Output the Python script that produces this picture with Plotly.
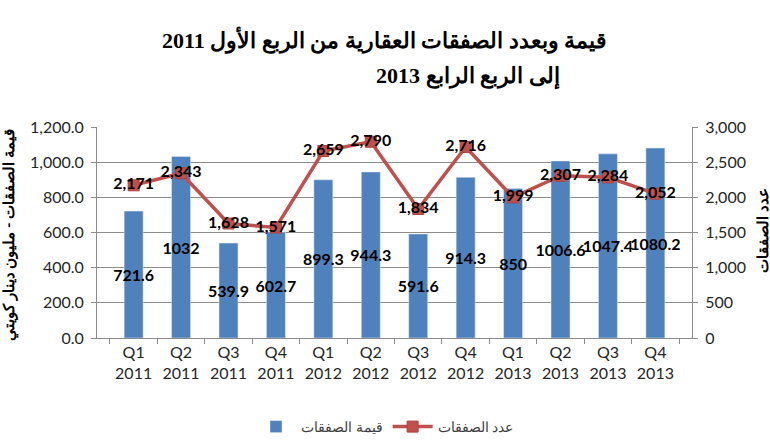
import plotly.graph_objects as go

categories = ["Q1<br>2011", "Q2<br>2011", "Q3<br>2011", "Q4<br>2011",
              "Q1<br>2012", "Q2<br>2012", "Q3<br>2012", "Q4<br>2012",
              "Q1<br>2013", "Q2<br>2013", "Q3<br>2013", "Q4<br>2013"]
deal_values = [721.6, 1032, 539.9, 602.7, 899.3, 944.3, 591.6, 914.3, 850, 1006.6, 1047.4, 1080.2]
value_labels = ["721.6", "1032", "539.9", "602.7", "899.3", "944.3", "591.6", "914.3", "850", "1006.6", "1047.4", "1080.2"]
deal_counts = [2171, 2343, 1628, 1571, 2659, 2790, 1834, 2716, 1999, 2307, 2284, 2052]

title_line1 = "قيمة وبعدد الصفقات العقارية من الربع الأول 2011"
title_line2 = "إلى الربع الرابع 2013"
left_title = "قيمة الصفقات - مليون دينار كويتي"
right_title = "عدد الصفقات"
bar_name = "قيمة الصفقات"
line_name = "عدد الصفقات"

BLUE = "#4F81BD"
RED = "#C0504D"
GRID = "#8C8C8C"
FONT = "Lato, 'Open Sans', sans-serif"
TICKC = "#262626"

fig = go.Figure()
fig.add_trace(go.Bar(
    x=categories, y=deal_values, name=bar_name, marker_color=BLUE,
    text=value_labels, textposition="inside", insidetextanchor="middle",
    textangle=0, constraintext="none",
    insidetextfont=dict(family=FONT, size=16, color="black", weight="bold"),
    yaxis="y",
))
fig.add_trace(go.Scatter(
    x=categories, y=deal_counts, name=line_name, mode="lines+markers+text",
    line=dict(color=RED, width=3.5),
    marker=dict(symbol="square", size=11, color=RED, line=dict(color="#B0413E", width=1)),
    text=[f"{v:,}" for v in deal_counts], textposition="middle center",
    textfont=dict(family=FONT, size=16, color="black", weight="bold"),
    yaxis="y2", cliponaxis=False,
))

L, R, T, B = 97, 78, 127, 106
W, H = 770, 444

fig.update_layout(
    width=W, height=H,
    margin=dict(l=L, r=R, t=T, b=B, autoexpand=False),
    paper_bgcolor="white", plot_bgcolor="white",
    bargap=0.6,
    showlegend=True,
    legend=dict(orientation="h", x=0.5, xref="container", xanchor="center",
                y=1 - 427 / H, yref="container", yanchor="middle",
                font=dict(family=FONT, size=14, color="#404040"),
                traceorder="normal", itemwidth=40),
    xaxis=dict(
        type="category", showgrid=False, showline=True, linecolor=GRID, linewidth=1,
        ticks="outside", tickson="boundaries", ticklen=5, tickcolor=GRID,
        tickfont=dict(family=FONT, size=16, color=TICKC),
    ),
    yaxis=dict(
        range=[0, 1200], dtick=200, tickformat=",.1f",
        showgrid=True, gridcolor=GRID, gridwidth=1,
        showline=True, linecolor=GRID, ticks="outside", ticklen=5, tickcolor=GRID,
        tickfont=dict(family=FONT, size=16, color=TICKC), ticklabelstandoff=4,
        zeroline=False,
    ),
    yaxis2=dict(
        range=[0, 3000], dtick=500, tickformat=",d", overlaying="y", side="right",
        showgrid=False, showline=True, linecolor=GRID, ticks="outside", ticklen=5,
        tickcolor=GRID, tickfont=dict(family=FONT, size=16, color=TICKC),
        ticklabelstandoff=4, zeroline=False,
    ),
)

pw = W - L - R
ph = H - T - B
def px_x(x):
    return (x - L) / pw
def px_y(y):
    return (H - B - y) / ph

title_font = dict(family="'Liberation Serif', serif", size=22, color="black", weight="bold")
axis_font = dict(family=FONT, size=15, color="black", weight="bold")
fig.update_layout(annotations=[
    dict(text=title_line1, xref="paper", yref="paper", x=px_x(384), y=px_y(40),
         xanchor="center", yanchor="middle", showarrow=False, font=title_font),
    dict(text=title_line2, xref="paper", yref="paper", x=px_x(468), y=px_y(76),
         xanchor="center", yanchor="middle", showarrow=False, font=title_font),
    dict(text=left_title, xref="paper", yref="paper", x=px_x(9), y=px_y(235),
         xanchor="center", yanchor="middle", textangle=-90, showarrow=False, font=axis_font),
    dict(text=right_title, xref="paper", yref="paper", x=px_x(762), y=px_y(231),
         xanchor="center", yanchor="middle", textangle=-90, showarrow=False, font=axis_font),
])

fig.write_html("out.html")
